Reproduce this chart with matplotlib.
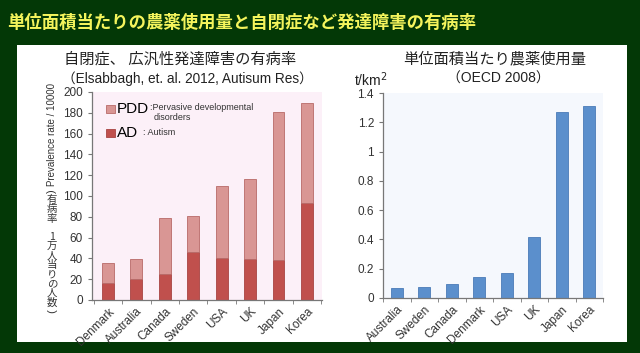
import matplotlib
matplotlib.use("Agg")
import matplotlib.pyplot as plt
from matplotlib.patches import Rectangle
import numpy as np

plt.rcParams['font.family'] = ['Liberation Sans', 'Noto Sans CJK JP', 'DejaVu Sans']

# left chart: prevalence per 10000 (Elsabbagh et al. 2012)
prev_countries = ['Denmark', 'Australia', 'Canada', 'Sweden', 'USA', 'UK', 'Japan', 'Korea']
ad_values = [16, 20, 25, 46, 40, 39, 38, 93]
pdd_totals = [36, 39, 79, 81, 110, 116, 181, 189]

# right chart: pesticide use per area (OECD 2008), t/km2
pest_countries = ['Australia', 'Sweden', 'Canada', 'Denmark', 'USA', 'UK', 'Japan', 'Korea']
pest_values = [0.07, 0.078, 0.093, 0.145, 0.17, 0.42, 1.27, 1.31]

W, H = 640, 353
fig = plt.figure(figsize=(W / 100, H / 100), dpi=100, facecolor='#033806')


def fx(x):
    return x / W


def fy(y):
    return 1 - y / H


# white panel
fig.patches.append(Rectangle((fx(17), fy(342)), fx(610), (342 - 45) / H,
                             transform=fig.transFigure, facecolor='white',
                             edgecolor='none', zorder=-5))

cjk = ['Noto Sans CJK JP', 'DejaVu Sans']
lat = ['Liberation Sans', 'Noto Sans CJK JP']
fig.text(fx(7), fy(23), '単位面積当たりの農薬使用量と自閉症など発達障害の有病率',
         color='#f4f45c', fontsize=12.5, fontweight='bold', family=cjk,
         ha='left', va='center')

fig.text(fx(64), fy(59), '自閉症、 広汎性発達障害の有病率', fontsize=11,
         family=cjk, ha='left', va='center', color='#222222')
fig.text(fx(62), fy(79), '（Elsabbagh, et. al. 2012, Autisum Res）', fontsize=9.8,
         family=lat, ha='left', va='center', color='#222222')
fig.text(fx(403), fy(59), '単位面積当たり農薬使用量', fontsize=11,
         family=cjk, ha='left', va='center', color='#222222')
fig.text(fx(447), fy(79), '（OECD 2008）', fontsize=10,
         family=lat, ha='left', va='center', color='#222222')
fig.text(fx(354), fy(80), 't/km$^2$', fontsize=10, ha='left', va='center', color='#222222')

# ---- left axes ----
ax1 = fig.add_axes([fx(92), fy(300), fx(322 - 92), (300 - 92) / H])
ax1.set_facecolor('#fcf0f8')
x1 = np.arange(len(prev_countries))
pdd_part = np.array(pdd_totals) - np.array(ad_values)
ax1.bar(x1, ad_values, width=0.42, color='#c0504d', edgecolor='#a84442', linewidth=0.6)
ax1.bar(x1, pdd_part, bottom=ad_values, width=0.42, color='#d99694',
        edgecolor='#b86a68', linewidth=0.6)
ax1.set_xlim(-0.56, 7.53)
ax1.set_ylim(0, 200)
ax1.set_yticks(range(0, 201, 20))

# ---- right axes ----
ax2 = fig.add_axes([fx(383), fy(298), fx(603 - 383), (298 - 93) / H])
ax2.set_facecolor('#f5f8fd')
x2 = np.arange(len(pest_countries))
ax2.bar(x2, pest_values, width=0.42, color='#5b8fcc', edgecolor='#4a7bb7', linewidth=0.6)
ax2.set_xlim(-0.5, 7.5)
ax2.set_ylim(0, 1.4)
ax2.set_yticks([0, 0.2, 0.4, 0.6, 0.8, 1, 1.2, 1.4])
ax2.set_yticklabels(['0', '0.2', '0.4', '0.6', '0.8', '1', '1.2', '1.4'])

for ax, labels in ((ax1, prev_countries), (ax2, pest_countries)):
    for s in ('top', 'right'):
        ax.spines[s].set_visible(False)
    for s in ('left', 'bottom'):
        ax.spines[s].set_color('#777777')
        ax.spines[s].set_linewidth(0.9)
    ax.set_xticks(np.arange(len(labels)))
    ax.set_xticklabels(labels, rotation=45, ha='right', rotation_mode='anchor',
                       fontsize=8.5, color='#333333')
    ax.set_xticks(np.arange(len(labels) + 1) - 0.5, minor=True)
    ax.tick_params(axis='x', which='major', length=0, pad=4)
    ax.tick_params(axis='x', which='minor', length=3, color='#777777', direction='out')
    ax.tick_params(axis='y', length=3, color='#777777', labelsize=8.5, labelcolor='#333333')

# legend (manual)
ax1.add_patch(Rectangle((0.062, 0.899), 0.038, 0.038, transform=ax1.transAxes,
                        facecolor='#d99694', edgecolor='#b86a68', linewidth=0.6))
ax1.text(0.109, 0.918, 'PDD', transform=ax1.transAxes, fontsize=11, va='center', ha='left')
ax1.text(0.252, 0.925, ':Pervasive developmental', transform=ax1.transAxes,
         fontsize=6.5, va='center', ha='left', color='#333333')
ax1.text(0.27, 0.876, 'disorders', transform=ax1.transAxes,
         fontsize=6.5, va='center', ha='left', color='#333333')
ax1.add_patch(Rectangle((0.062, 0.784), 0.038, 0.038, transform=ax1.transAxes,
                        facecolor='#c0504d', edgecolor='#a84442', linewidth=0.6))
ax1.text(0.109, 0.803, 'AD', transform=ax1.transAxes, fontsize=11, va='center', ha='left')
ax1.text(0.222, 0.803, ': Autism', transform=ax1.transAxes, fontsize=6.5,
         va='center', ha='left', color='#333333')

# y label: English rotated, Japanese stacked
fig.text(fx(52), fy(135), 'Prevalence rate / 10000', rotation=90, fontsize=7,
         ha='center', va='center', color='#333333')
fig.text(fx(52), fy(191), ')', rotation=90, fontsize=8, ha='center', va='center', color='#333333')
fig.text(fx(52), fy(311), '(', rotation=90, fontsize=8, ha='center', va='center', color='#333333')
jp_chars = ['有', '病', '率', '', '1', '万', '人', '当', 'り', 'の', '人', '数']
for i, ch in enumerate(jp_chars):
    if ch:
        fig.text(fx(52), fy(200 + i * 9.3), ch, fontsize=7.5, family=cjk,
                 ha='center', va='center', color='#333333')

fig.savefig('out.png', dpi=100, facecolor=fig.get_facecolor())
